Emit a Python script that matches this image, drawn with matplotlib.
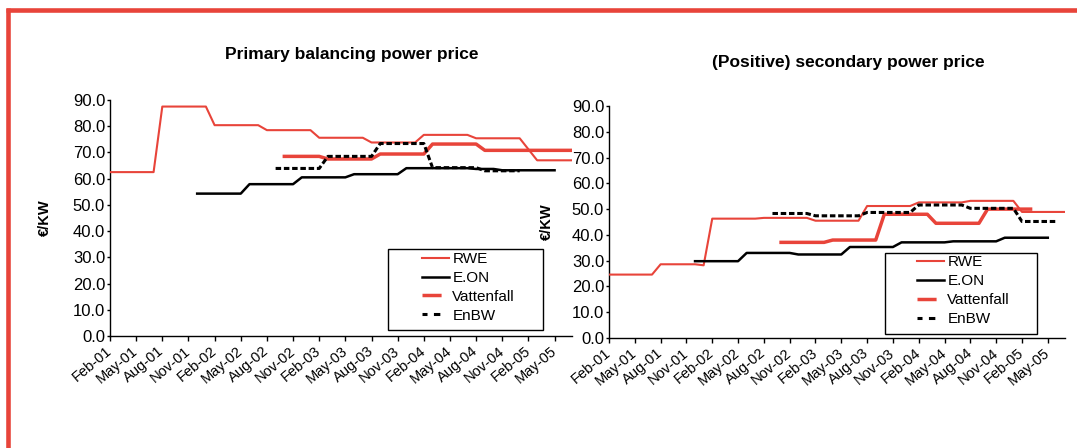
import numpy as np
import matplotlib
matplotlib.use("Agg")
import matplotlib.pyplot as plt
import matplotlib.transforms as mtransforms
from matplotlib.lines import Line2D
from matplotlib.patches import Rectangle

plt.rcParams["font.family"] = ["Liberation Sans", "DejaVu Sans"]

# monthly categories from Feb-01 to Jul-05, labels every third month
tick_labels = ["Feb-01", "May-01", "Aug-01", "Nov-01", "Feb-02", "May-02",
               "Aug-02", "Nov-02", "Feb-03", "May-03", "Aug-03", "Nov-03",
               "Feb-04", "May-04", "Aug-04", "Nov-04", "Feb-05", "May-05"]
n_months = 54

# --- primary balancing power price (EUR/KW) ---
primary_rwe = [62.5] * 6 + [87.5] * 6 + [80.4] * 6 + [78.5] * 6 + [75.6] * 6 \
    + [73.8] * 6 + [76.7] * 6 + [75.4] * 6 + [71.2] + [67.0] * 5
primary_eon = [None] * 10 + [54.3] * 6 + [57.9] * 6 + [60.5] * 6 + [61.7] * 6 \
    + [64.0] * 8 + [63.7] * 3 + [63.2] * 7 + [None] * 2
primary_vattenfall = [None] * 20 + [68.5] * 5 + [67.5] * 6 + [69.4] * 6 \
    + [73.2] * 6 + [70.8] * 11
primary_enbw = [None] * 19 + [63.9] * 6 + [68.5] * 6 + [73.4] * 6 + [64.2] * 6 \
    + [63.0] * 5 + [None] * 6

# --- (positive) secondary power price (EUR/KW) ---
secondary_rwe = [24.6] * 6 + [28.6] * 5 + [28.2] + [46.3] * 6 + [46.6] * 6 \
    + [45.5] * 6 + [51.2] * 6 + [52.6] * 6 + [53.2] * 6 + [48.9] * 6
secondary_eon = [None] * 10 + [29.8] * 6 + [33.0] * 6 + [32.4] * 6 + [35.3] * 6 \
    + [37.1] * 6 + [37.5] * 6 + [38.9] * 6 + [None] * 2
secondary_vattenfall = [None] * 20 + [37.1] * 6 + [38.0] * 6 + [48.0] * 6 \
    + [44.5] * 6 + [50.0] * 6 + [None] * 4
secondary_enbw = [None] * 19 + [48.3] * 5 + [47.4] * 6 + [48.7] * 6 + [51.6] * 6 \
    + [50.3] * 6 + [45.2] * 5 + [None]

RED = "#e8443a"
W, H = 1077, 448

fig = plt.figure(figsize=(W / 100, H / 100), dpi=100)
fig.patch.set_facecolor("white")

ax1 = fig.add_axes([110 / W, (H - 336) / H, 462 / W, 236 / H])
ax2 = fig.add_axes([609 / W, (H - 338) / H, 456 / W, 232 / H])
ax2.patch.set_alpha(0)

x = np.arange(n_months)


def draw(ax, rwe, eon, vattenfall, enbw):
    ax.plot(x, np.array(rwe, dtype=float), color=RED, lw=1.5, zorder=3)
    ax.plot(x, np.array(eon, dtype=float), color="black", lw=1.8, zorder=3)
    ax.plot(x, np.array(vattenfall, dtype=float), color=RED, lw=2.5, zorder=3)
    ax.plot(x, np.array(enbw, dtype=float), color="black", lw=2.2,
            dashes=(1.8, 0.9), zorder=4)

    ax.set_xlim(0, n_months - 1)
    ax.set_ylim(0, 90)
    ax.set_yticks(np.arange(0, 91, 10))
    ax.set_yticklabels([f"{v:.1f}" for v in np.arange(0, 91, 10)], fontsize=12)
    ax.set_xticks(np.arange(len(tick_labels)) * 3)
    ax.set_xticklabels(tick_labels, fontsize=10.5, rotation=40,
                       ha="right", va="center", rotation_mode="anchor")
    shift = mtransforms.ScaledTranslation(-3 / 100, 0, fig.dpi_scale_trans)
    for lab in ax.get_xticklabels():
        lab.set_transform(lab.get_transform() + shift)

    for side in ("top", "right"):
        ax.spines[side].set_visible(False)
    for side in ("left", "bottom"):
        ax.spines[side].set_linewidth(1.0)
    ax.tick_params(axis="y", direction="out", length=2.5, width=1, pad=1)
    ax.tick_params(axis="x", direction="out", length=3.5, width=1, pad=6)

    handles = [
        Line2D([], [], color=RED, lw=1.5),
        Line2D([], [], color="black", lw=1.8),
        Line2D([], [], color=RED, lw=2.5, dashes=(5.5, 10)),
        Line2D([], [], color="black", lw=2.2, dashes=(1.64, 2.1, 2.1, 8)),
    ]
    return handles


h1 = draw(ax1, primary_rwe, primary_eon, primary_vattenfall, primary_enbw)
h2 = draw(ax2, secondary_rwe, secondary_eon, secondary_vattenfall, secondary_enbw)

names = ["RWE", "E.ON", "Vattenfall", "EnBW"]
for ax, handles, box, anchor in [
    (ax1, h1, (0.6017, 0.0254, 0.3355, 0.3432), (0.6747, 0.356)),
    (ax2, h2, (0.6053, 0.0172, 0.3333, 0.3492), (0.6748, 0.3564)),
]:
    ax.add_patch(Rectangle(box[:2], box[2], box[3], transform=ax.transAxes,
                           fill=True, facecolor="white", edgecolor="black",
                           lw=1.0, zorder=5, clip_on=False))
    leg = ax.legend(handles, names, loc="upper left", bbox_to_anchor=anchor,
                    frameon=False, fontsize=11, handlelength=1.8,
                    handletextpad=0.2, labelspacing=0.32, borderpad=0,
                    borderaxespad=0)
    leg.set_zorder(6)

fig.text(352 / W, 1 - 55 / H, "Primary balancing power price",
         ha="center", va="center", fontsize=12.5, fontweight="bold")
fig.text(848 / W, 1 - 62 / H, "(Positive) secondary power price",
         ha="center", va="center", fontsize=12.5, fontweight="bold")
fig.text(45 / W, 1 - 218 / H, "€/KW", rotation=90, ha="center", va="center",
         fontsize=10.5, fontweight="bold")
fig.text(547 / W, 1 - 222 / H, "€/KW", rotation=90, ha="center", va="center",
         fontsize=10.5, fontweight="bold")

# red frame along the top and left edge
fig.add_artist(Line2D([6 / W, 1], [1 - 10.5 / H] * 2, transform=fig.transFigure,
                      color=RED, lw=3.3, solid_capstyle="butt"))
fig.add_artist(Line2D([8 / W] * 2, [0, 1 - 8.5 / H], transform=fig.transFigure,
                      color=RED, lw=3.3, solid_capstyle="butt"))

fig.savefig("out.png", dpi=100)
